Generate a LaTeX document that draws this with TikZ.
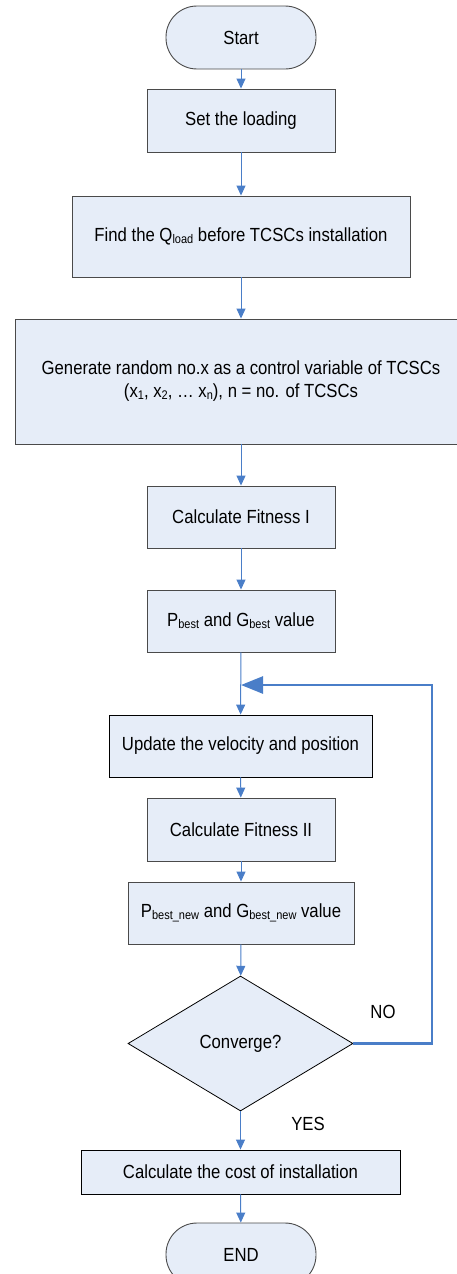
\documentclass[tikz,border=0pt]{standalone}
\usepackage{fontspec}
\setmainfont{Liberation Sans}[FakeStretch=0.88]
\usetikzlibrary{arrows.meta,shapes.geometric}
\definecolor{boxfill}{HTML}{E6EDF8}
\definecolor{boxline}{HTML}{4A4A4A}
\definecolor{arr}{HTML}{4A7EC8}
\newcommand\subt[1]{\raisebox{-0.2ex}{\fontsize{12.5}{13}\selectfont #1}}
\begin{document}
\begin{tikzpicture}[x=1pt,y=-1pt,
  every node/.style={font=\fontsize{19}{23}\selectfont, text=black},
  box/.style={draw=boxline, line width=0.9pt, fill=boxfill, rectangle, inner sep=0pt, align=center},
  term/.style={box, rounded corners=31pt},
  dec/.style={draw=black, line width=0.8pt, fill=boxfill, diamond, inner sep=0pt, minimum width=225pt, minimum height=135pt},
  flow/.style={draw=arr, line width=1pt, -{Triangle[length=10pt,width=9pt]}},
  loop/.style={draw=arr, line width=2.6pt, -{Triangle[length=22pt,width=17pt]}},
  lbl/.style={inner sep=0pt}
]
\useasboundingbox (0,0) rectangle (457,1274);
\node[term, minimum width=150pt, minimum height=63pt] (start) at (241,37.5) {Start};
\node[box, minimum width=188pt, minimum height=63pt] (set) at (241,120.5) {Set the loading};
\node[box, minimum width=338pt, minimum height=81pt] (find) at (241,236.5) {Find the Q\subt{load} before TCSCs installation};
\node[box, minimum width=452pt, minimum height=125pt] (gen) at (241,381.5) {Generate random no.x as a control variable of TCSCs\\(x\subt{1}, x\subt{2}, \dots\ x\subt{n}), n = no. of TCSCs};
\node[box, minimum width=188pt, minimum height=62pt] (fit1) at (241,517) {Calculate Fitness I};
\node[box, minimum width=188pt, minimum height=62pt] (pb) at (241,621) {P\subt{best} and G\subt{best} value};
\node[box, draw=black, minimum width=263pt, minimum height=62pt] (upd) at (240.5,746) {Update the velocity and position};
\node[box, minimum width=188pt, minimum height=63pt] (fit2) at (241,829.5) {Calculate Fitness II};
\node[box, minimum width=226pt, minimum height=62pt] (pbn) at (241,913) {P\subt{best\_new} and G\subt{best\_new} value};
\node[dec] (conv) at (240.5,1043.5) {Converge?};
\node[box, draw=black, minimum width=319pt, minimum height=44pt] (cost) at (240.5,1172) {Calculate the cost of installation};
\node[term, minimum width=150pt, minimum height=63pt] (end) at (241,1254.5) {END};
\node[lbl] (no) at (383,1012) {NO};
\node[lbl] (yes) at (308,1124) {YES};
\coordinate (corner) at (432,685);
\coordinate (merge) at (241,685);
\draw[flow] (start) -- (set);
\draw[flow] (set) -- (find);
\draw[flow] (find) -- (gen);
\draw[flow] (gen.south -| fit1) -- (fit1);
\draw[flow] (fit1) -- (pb);
\draw[flow] (pb) -- (upd);
\draw[flow] (upd) -- (fit2);
\draw[flow] (fit2) -- (pbn);
\draw[flow] (pbn) -- (conv);
\draw[flow] (conv) -- (cost);
\draw[flow] (cost) -- (end);
\draw[loop] (conv.east) -| (corner) -- (merge);
\end{tikzpicture}
\end{document}
